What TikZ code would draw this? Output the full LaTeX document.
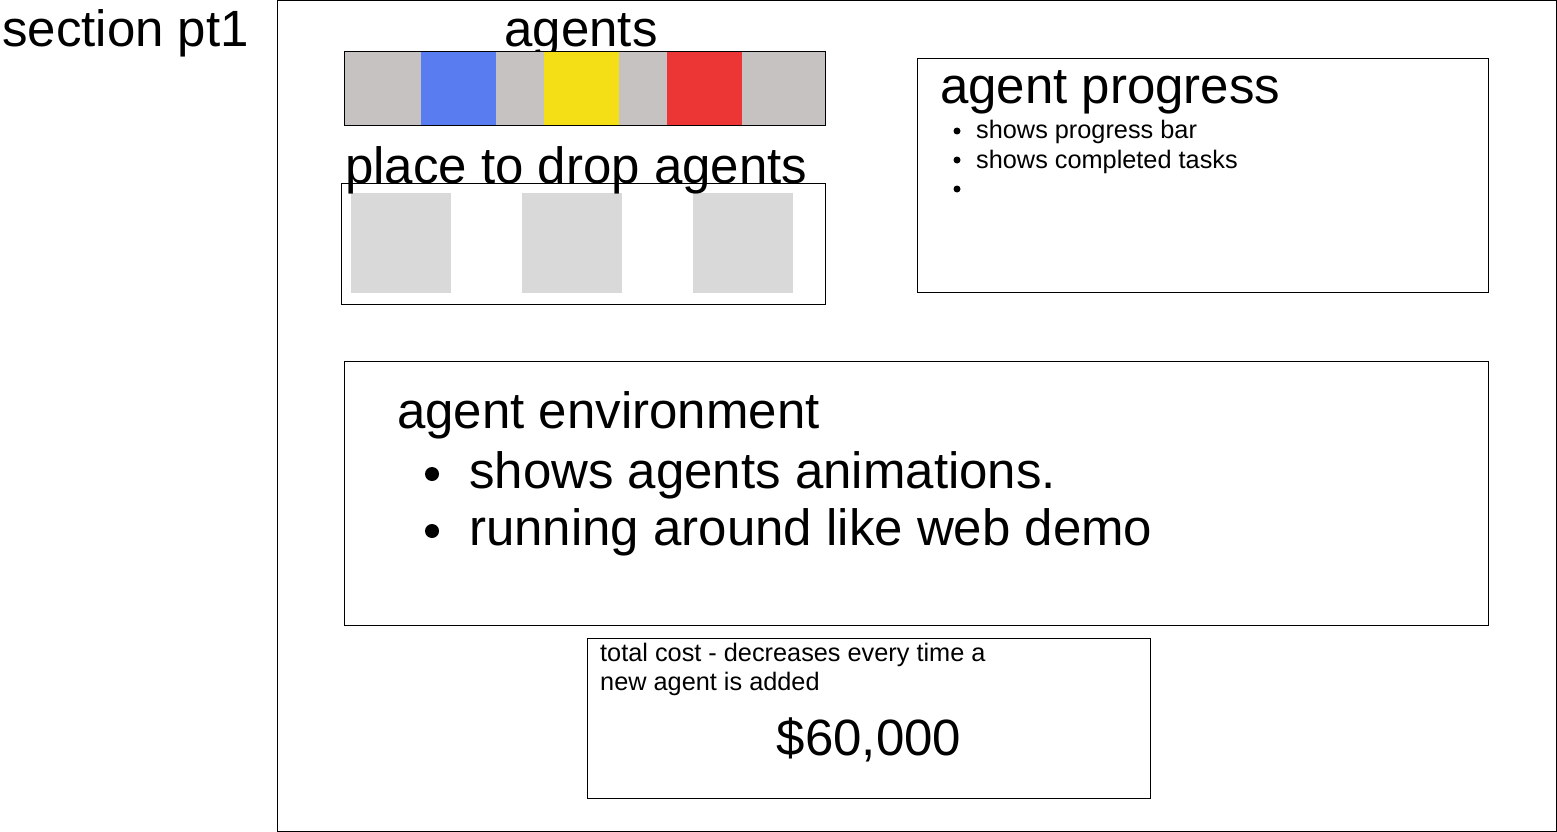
\documentclass[tikz,border=0pt]{standalone}
\usepackage{fontspec}
\setmainfont{Liberation Sans}
\usepackage{xcolor}
\usetikzlibrary{positioning,calc}

\definecolor{slotgray}{HTML}{C6C2C1}
\definecolor{agentblue}{HTML}{597CF0}
\definecolor{agentyellow}{HTML}{F4DF16}
\definecolor{agentred}{HTML}{EC3636}
\definecolor{dropgray}{HTML}{D9D9D9}

\tikzset{
  panel/.style={draw, line width=1pt},
  bigtext/.style={anchor=base west, inner sep=0pt, font=\fontsize{51}{57}\selectfont},
  smalltext/.style={anchor=base west, inner sep=0pt, font=\fontsize{25.3}{29}\selectfont},
  bigdot/.style={fill, circle, inner sep=0pt, minimum size=14pt},
  smalldot/.style={fill, circle, inner sep=0pt, minimum size=7pt}
}

\begin{document}
\begin{tikzpicture}[x=1pt, y=-1pt]
	\useasboundingbox (0,0) rectangle (1557,832);
	% section frame
	\node[bigtext] (title) at (2,47) {section pt1};
	\draw[panel] (277.5,0.5) rectangle (1556.5,831.5);
	% agents bar
	\node[bigtext, anchor=base] (agentslbl) at (581,47) {agents};
	\foreach \xa/\xb/\col in {344/421/slotgray, 421/496/agentblue, 496/544/slotgray, 544/619/agentyellow, 619/667/slotgray, 667/742/agentred, 742/825/slotgray}
		\fill[\col] (\xa,52) rectangle (\xb,126);
	\draw[panel] (344,52) rectangle (825,126);
	% drop zone
	\draw[panel] (341.5,183.5) rectangle (825,304);
	\foreach \xa in {351,522,693}
		\fill[dropgray] (\xa,193) rectangle ++(100,100);
	\node[bigtext] (droplbl) at (345,183) {place to drop agents};
	% progress panel
	\draw[panel] (917.5,58.5) rectangle (1488,292);
	\node[bigtext] (proglbl) at (940,104) {agent progress};
	\node[smalldot] (pdot1) at (957,131) {};
	\node[smalldot] (pdot2) at (957,160) {};
	\node[smalldot] (pdot3) at (957,189) {};
	\node[smalltext] (pitem1) at (976,139) {shows progress bar};
	\node[smalltext] (pitem2) at (976,168) {shows completed tasks};
	% environment panel
	\draw[panel] (344.5,361.5) rectangle (1488,625);
	\node[bigtext] (envlbl) at (397,428) {agent environment};
	\node[bigdot] (edot1) at (432,474) {};
	\node[bigdot] (edot2) at (432,531) {};
	\node[bigtext] (eitem1) at (469,488) {shows agents animations.};
	\node[bigtext] (eitem2) at (469,545) {running around like web demo};
	% cost panel
	\draw[panel] (587.5,638.5) rectangle (1150,798);
	\node[smalltext] (costlbl1) at (600,661) {total cost - decreases every time a};
	\node[smalltext] (costlbl2) at (600,690) {new agent is added};
	\node[bigtext, anchor=base] (costval) at (869,755) {\$60,000};
\end{tikzpicture}
\end{document}
